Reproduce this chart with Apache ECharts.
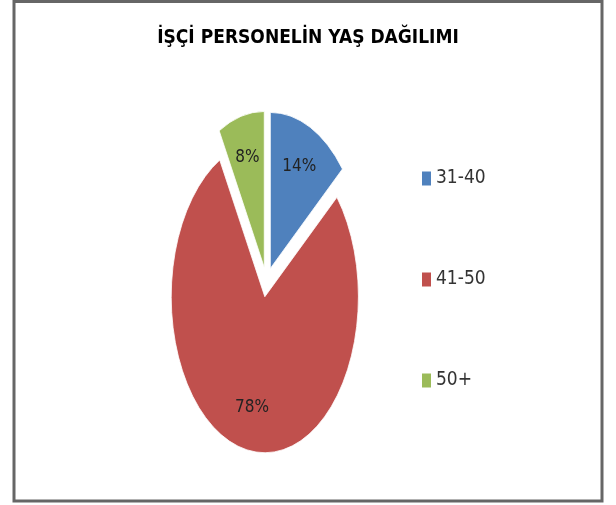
<!DOCTYPE html>
<html>
<head>
<meta charset="utf-8">
<script src="https://cdn.jsdelivr.net/npm/echarts@6/dist/echarts.min.js"></script>
<style>
  html, body { margin: 0; padding: 0; background: #fff; }
  #chart { width: 616px; height: 505px; }
</style>
</head>
<body>
<div id="chart"></div>
<script>
const categories = ['31-40', '41-50', '50+']
const shares = [14, 78, 8]
const colors = ['#4F81BD', '#C0504D', '#9BBB59']
const titleText = 'İŞÇİ PERSONELİN YAŞ DAĞILIMI'

const FONT = "'Liberation Sans Narrow', 'DejaVu Sans Condensed', sans-serif"
// pie is drawn squashed horizontally like the original picture
const CX = 266.5, CY = 282, R = 156, SX = 0.6, OFF = 15, LABEL_R = 113

const total = shares.reduce((a, b) => a + b, 0)

function renderSlice(i) {
  return function (params, api) {
    let before = 0
    for (let k = 0; k < i; k++) before += shares[k]
    const start = before / total * Math.PI * 2 - Math.PI / 2
    const end = start + api.value(0) / total * Math.PI * 2
    const mid = (start + end) / 2
    const dist = OFF + LABEL_R
    return {
      type: 'group',
      children: [
        {
          type: 'group', x: CX, y: CY, scaleX: SX,
          children: [{
            type: 'sector',
            shape: { cx: OFF * Math.cos(mid), cy: OFF * Math.sin(mid), r: R, r0: 0, startAngle: start, endAngle: end, clockwise: true },
            style: { fill: colors[i], stroke: '#fff', lineWidth: 1, strokeNoScale: true },
          }],
        },
        {
          type: 'text',
          x: CX + SX * dist * Math.cos(mid),
          y: CY + dist * Math.sin(mid),
          style: { text: Math.round(api.value(0) / total * 100) + '%', align: 'center', verticalAlign: 'middle', font: '17px ' + FONT, fill: '#222' },
        },
      ],
    }
  }
}

const chart = echarts.init(document.getElementById('chart'))
chart.setOption({
  animation: false,
  color: colors,
  title: {
    text: titleText, left: 'center', top: 29, padding: 0,
    textStyle: { fontFamily: FONT, fontWeight: 'bold', fontSize: 19, color: '#000' },
  },
  legend: {
    orient: 'vertical', left: 417, top: 164, itemWidth: 9, itemHeight: 14, itemGap: 82, icon: 'rect', itemSymbolGap: 4,
    data: categories,
    textStyle: { fontFamily: FONT, fontSize: 19, color: '#333' },
  },
  graphic: [{
    type: 'rect', silent: true,
    shape: { x: 14, y: 1.5, width: 588, height: 499.5 },
    style: { fill: 'none', stroke: '#666', lineWidth: 3 },
  }],
  series: categories.map((name, i) => ({
    type: 'custom',
    name,
    coordinateSystem: 'none',
    itemStyle: { color: colors[i] },
    data: [shares[i]],
    renderItem: renderSlice(i),
  })),
})
</script>
</body>
</html>
